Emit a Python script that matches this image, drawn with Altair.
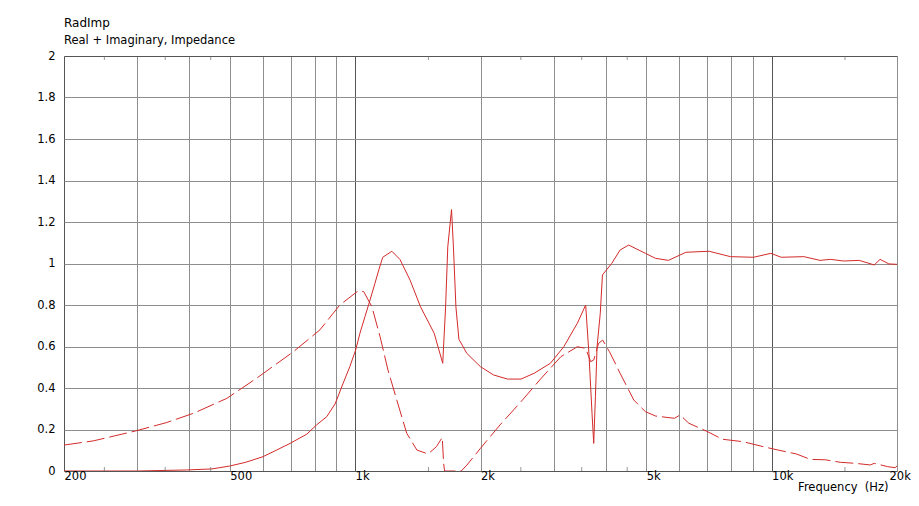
import altair as alt
import pandas as pd

# ---- data ----
real_freq = [200, 300, 394, 453, 500, 546, 601, 648, 698, 766, 808, 855, 895, 936, 971,
             1003, 1027, 1056, 1086, 1116, 1141, 1165, 1225, 1281, 1355, 1435, 1548, 1623,
             1649, 1669, 1704, 1722, 1746, 1775, 1854, 1999, 2149, 2322, 2502, 2690, 2943,
             3170, 3416, 3577, 3642, 3705, 3740, 3775, 3810, 3878, 3925, 4130, 4327, 4537,
             4977, 5262, 5652, 6225, 7077, 7963, 9050, 9960, 10550, 11950, 13070, 13830,
             14900, 16230, 17640, 18210, 19120, 20000]
real_val = [0, 0, 0.005, 0.01, 0.024, 0.042, 0.069, 0.101, 0.133, 0.178, 0.222, 0.262, 0.323,
            0.423, 0.503, 0.583, 0.664, 0.744, 0.824, 0.905, 0.972, 1.03, 1.059, 1.02, 0.92,
            0.792, 0.664, 0.519, 0.79, 1.08, 1.26, 1.08, 0.79, 0.635, 0.567, 0.503, 0.463,
            0.443, 0.443, 0.471, 0.519, 0.599, 0.712, 0.80, 0.567, 0.278, 0.133, 0.358, 0.599,
            0.76, 0.945, 1.0, 1.065, 1.089, 1.049, 1.025, 1.015, 1.054, 1.059, 1.033, 1.03,
            1.049, 1.03, 1.033, 1.015, 1.02, 1.012, 1.015, 0.993, 1.02, 0.998, 0.996]

imag_freq = [200, 235, 297, 352, 409, 492, 580, 711, 823, 919, 1018, 1049, 1097, 1148, 1199,
             1259, 1330, 1407, 1497, 1567, 1619, 1631, 1640, 1798, 1856, 1999, 2228, 2502,
             2798, 3120, 3416, 3577, 3677, 3740, 3842, 3930, 4080, 4327, 4668, 4977, 5262,
             5840, 6030, 6330, 6960, 7620, 8550, 9560, 10360, 11470, 12390, 13460, 14620,
             15890, 17250, 17640, 18990, 19790, 20000]
imag_val = [0.125, 0.145, 0.193, 0.233, 0.278, 0.35, 0.447, 0.575, 0.68, 0.80, 0.869, 0.864,
            0.792, 0.647, 0.487, 0.342, 0.182, 0.101, 0.082, 0.117, 0.162, 0.037, 0, 0, 0.029,
            0.109, 0.222, 0.334, 0.447, 0.551, 0.599, 0.591, 0.527, 0.535, 0.615, 0.631, 0.575,
            0.471, 0.342, 0.286, 0.265, 0.254, 0.27, 0.23, 0.193, 0.153, 0.141, 0.117, 0.101,
            0.082, 0.056, 0.054, 0.042, 0.037, 0.029, 0.037, 0.021, 0.016, 0.024]

grid_ticks = [200, 300, 400, 500, 600, 700, 800, 900, 1000, 2000, 3000, 4000, 5000, 6000,
              7000, 8000, 9000, 10000, 20000]
labeled_ticks = [200, 500, 1000, 2000, 5000, 10000, 20000]
minor_ticks = [250, 350, 450, 1500, 2500, 3500, 4500, 15000]
y_ticks = [0, 0.2, 0.4, 0.6, 0.8, 1, 1.2, 1.4, 1.6, 1.8, 2]

RED = "#d42a2a"
FONT = "DejaVu Sans"
FS = 11.5

real_df = pd.DataFrame({"f": real_freq, "v": real_val})
imag_df = pd.DataFrame({"f": imag_freq, "v": imag_val})
minor_df = pd.DataFrame({"f": minor_ticks})

labeled_js = "[" + ",".join(str(v) for v in labeled_ticks) + "]"

xscale = alt.Scale(type="log", domain=[200, 20000], nice=False)
yscale = alt.Scale(domain=[0, 2], nice=False, clamp=True)

xaxis = alt.Axis(
    values=grid_ticks, grid=True,
    labelExpr=f"indexof({labeled_js}, datum.value) >= 0 ? (datum.value >= 1000 ? (datum.value/1000) + 'k' : datum.value + '') : ''",
    labelAlign="left", labelBaseline="middle", labelPadding=5,
    labelOffset={"condition": {"test": "datum.value == 20000", "value": -8}, "value": 0},
    labelOverlap=False, labelFlush=False,
    labelFont=FONT, labelFontSize=FS, labelColor="#000",
    ticks=False, domain=False,
    gridColor={"condition": {"test": "datum.value == 1000 || datum.value == 10000 || datum.value == 200",
                             "value": "#555555"}, "value": "#8e8e8e"},
    title="Frequency\u00a0 (Hz)", titleAnchor="end", titleAlign="right",
    titleBaseline="alphabetic", titleY=19, titleX=824,
    titleFontWeight="normal", titleFontSize=FS, titleFont=FONT, titleColor="#000",
)
yaxis = alt.Axis(
    values=y_ticks, grid=True, format="~g", labelPadding=9, ticks=False, domain=False,
    labelFont=FONT, labelFontSize=FS, labelColor="#000",
    gridColor={"condition": {"test": "datum.value == 0 || datum.value == 2", "value": "#555555"},
               "value": "#8e8e8e"},
    title=None,
)

real_line = alt.Chart(real_df).mark_line(color=RED, strokeWidth=1, clip=True).encode(
    x=alt.X("f:Q", scale=xscale, axis=xaxis),
    y=alt.Y("v:Q", scale=yscale, axis=yaxis))
imag_line = alt.Chart(imag_df).mark_line(color=RED, strokeWidth=1, strokeDash=[18, 5],
                                         clip=True).encode(x="f:Q", y="v:Q")
minor_bottom = alt.Chart(minor_df).mark_tick(orient="vertical", size=8, thickness=1,
                                             color="#6a6a6a", clip=True).encode(
    x="f:Q", y=alt.datum(0))
minor_top = alt.Chart(minor_df).mark_tick(orient="vertical", size=8, thickness=1,
                                          color="#6a6a6a", clip=True).encode(
    x="f:Q", y=alt.datum(2))

chart = alt.layer(real_line, imag_line, minor_bottom, minor_top).properties(
    width=833, height=415,
    title=alt.TitleParams(
        text="RadImp", subtitle="Real + Imaginary, Impedance",
        anchor="start", frame="group", font=FONT, subtitleFont=FONT,
        fontSize=12, subtitleFontSize=FS, fontWeight="normal",
        color="#000", subtitleColor="#000", offset=3, subtitlePadding=5,
    ),
    autosize=alt.AutoSizeParams(type="none"),
    padding={"left": 56, "top": 48, "right": 14, "bottom": 23},
).configure_view(stroke="#555555", strokeWidth=1).configure(background="white")

chart.save("out.html", embed_options={"renderer": "svg", "actions": False})
